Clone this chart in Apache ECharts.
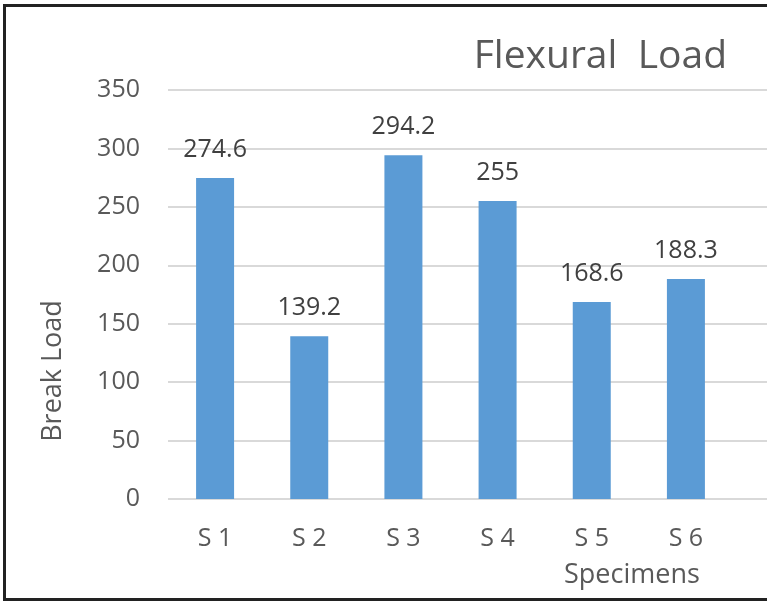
<!DOCTYPE html>
<html>
<head>
<meta charset="utf-8">
<script src="https://cdn.jsdelivr.net/npm/echarts@6/dist/echarts.min.js"></script>
<style>
  html, body { margin: 0; padding: 0; background: #fff; }
  #wrap { position: relative; width: 767px; height: 601px; overflow: hidden; }
  #chart { width: 767px; height: 601px; }
  #frame {
    position: absolute; left: 3px; top: 4px; width: 800px; height: 591px;
    border: 3px solid #222; pointer-events: none;
  }
</style>
</head>
<body>
<div id="wrap">
  <div id="chart"></div>
  <div id="frame"></div>
</div>
<script>
var categories = ["S 1", "S 2", "S 3", "S 4", "S 5", "S 6"];
var breakLoad = [274.6, 139.2, 294.2, 255, 168.6, 188.3];
var yTicks = { min: 0, max: 350, interval: 50 };

var FONT = "'Open Sans', 'Noto Sans', sans-serif";
var GREY = "#595959";

var myChart = echarts.init(document.getElementById("chart"), null, { renderer: "canvas" });

var option = {
  animation: false,
  title: [
    {
      text: "Flexural  Load",
      right: 40,
      top: 37,
      padding: 0,
      textStyle: { fontFamily: FONT, fontSize: 39, fontWeight: "normal", color: GREY },
    },
    {
      text: "Specimens",
      left: 564,
      top: 562,
      padding: 0,
      textStyle: { fontFamily: FONT, fontSize: 27, fontWeight: "normal", color: GREY },
    },
  ],
  graphic: [
    {
      type: "text",
      x: 53,
      y: 371,
      rotation: Math.PI / 2,
      style: {
        text: "Break Load",
        fontFamily: FONT,
        fontSize: 27,
        fill: GREY,
        align: "center",
        verticalAlign: "middle",
      },
    },
  ],
  grid: [
    // bars
    { left: 168, right: 34, top: 90, bottom: 102 },
    // gridlines running out to the cut edge
    { left: 168, right: 0, top: 90, bottom: 102 },
  ],
  xAxis: [
    {
      type: "category",
      gridIndex: 0,
      data: categories,
      axisTick: { show: false },
      axisLine: { show: false },
      axisLabel: { margin: 27, fontFamily: FONT, fontSize: 25, color: GREY },
    },
    { type: "value", gridIndex: 1, show: false },
  ],
  yAxis: [
    {
      type: "value",
      gridIndex: 0,
      min: yTicks.min,
      max: yTicks.max,
      interval: yTicks.interval,
      axisLabel: { show: false },
      splitLine: { show: false },
      axisLine: { show: false },
      axisTick: { show: false },
    },
    {
      type: "value",
      gridIndex: 1,
      min: yTicks.min,
      max: yTicks.max,
      interval: yTicks.interval,
      axisLine: { show: false },
      axisTick: { show: false },
      axisLabel: { margin: 28, fontFamily: FONT, fontSize: 25, color: GREY },
      splitLine: { lineStyle: { color: "#d9d9d9", width: 2 } },
    },
  ],
  series: [
    {
      name: "Break Load",
      type: "bar",
      xAxisIndex: 0,
      yAxisIndex: 0,
      data: breakLoad,
      barWidth: 38,
      itemStyle: { color: "#5B9BD5" },
      label: {
        show: true,
        position: "top",
        distance: 16,
        fontFamily: FONT,
        fontSize: 25,
        color: "#404040",
      },
    },
  ],
};

myChart.setOption(option);
</script>
</body>
</html>
